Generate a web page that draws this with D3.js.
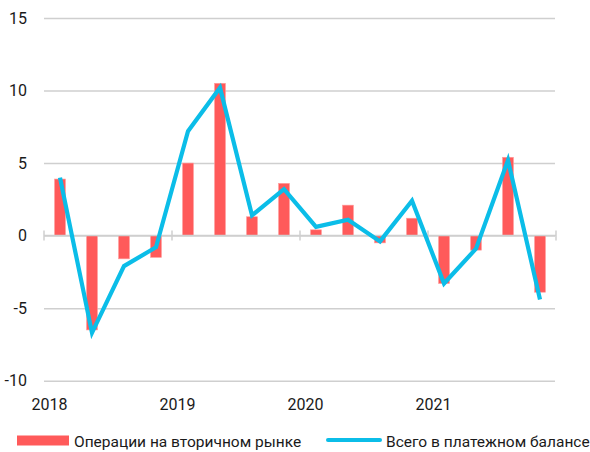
<!DOCTYPE html>
<html>
<head>
<meta charset="utf-8">
<script src="https://cdn.jsdelivr.net/npm/d3@7"></script>
<style>
  body { margin: 0; background: #fff; }
  svg text { font-family: Roboto, "Noto Sans", sans-serif; fill: #1a1a1a; }
</style>
</head>
<body>
<div id="chart"></div>
<script>
// quarters 2018Q1 .. 2021Q4
const quarters = ["2018Q1", "2018Q2", "2018Q3", "2018Q4",
                  "2019Q1", "2019Q2", "2019Q3", "2019Q4",
                  "2020Q1", "2020Q2", "2020Q3", "2020Q4",
                  "2021Q1", "2021Q2", "2021Q3", "2021Q4"];
const secondaryMarket = [3.9, -6.5, -1.6, -1.5, 5.0, 10.5, 1.3, 3.6,
                         0.4, 2.1, -0.5, 1.2, -3.3, -1.0, 5.4, -3.9];
const totalBalance = [4.0, -6.7, -2.1, -0.8, 7.2, 10.2, 1.4, 3.2,
                      0.6, 1.1, -0.4, 2.4, -3.3, -0.9, 5.2, -4.4];
const years = [2018, 2019, 2020, 2021, 2022];
const yearLabels = ["2018", "2019", "2020", "2021"];
const yTicks = [-10, -5, 0, 5, 10, 15];
const legendLabels = ["Операции на вторичном рынке", "Всего в платежном балансе"];

const red = "#ff5a5a";
const cyan = "#0bbde8";
const grid = "#cfcfcf";

drawChart();

function drawChart () {
  const width = 590;
  const height = 452;
  const left = 44, right = 556, top = 18, bottom = 380.7;

  const svg = d3.select("#chart")
    .append("svg")
      .attr("width", width)
      .attr("height", height);

  const x = d3.scaleBand()
    .domain(quarters)
    .range([left, right])
    .paddingInner(0.66)
    .paddingOuter(0.33);

  const xYear = d3.scaleLinear()
    .domain([2018, 2022])
    .range([left, right]);

  const y = d3.scaleLinear()
    .domain([-10, 15])
    .range([bottom, top]);

  // gridlines + y labels (plain hyphen for negatives)
  const yAxis = svg.append("g")
    .attr("transform", `translate(${left},0)`)
    .call(d3.axisLeft(y).tickValues(yTicks).tickSize(-(right - left - 1)).tickPadding(17).tickFormat(d => String(d)));
  yAxis.select(".domain").remove();
  yAxis.selectAll("line").attr("stroke", grid).attr("stroke-width", 1.5);
  yAxis.selectAll("text").attr("font-size", 16).attr("fill", "#1a1a1a");

  // bars
  svg.append("g").selectAll("rect")
    .data(secondaryMarket)
    .enter().append("rect")
      .attr("x", (d, i) => x(quarters[i]))
      .attr("width", x.bandwidth())
      .attr("y", d => y(Math.max(0, d)))
      .attr("height", d => Math.abs(y(d) - y(0)))
      .attr("fill", red)
      .attr("stroke", "#ff9c9c")
      .attr("stroke-width", 0.6);

  // zero axis with year ticks
  const zero = svg.append("g");
  zero.append("line")
    .attr("x1", left).attr("x2", right)
    .attr("y1", y(0)).attr("y2", y(0))
    .attr("stroke", grid).attr("stroke-width", 1.5);
  zero.selectAll("line.tick")
    .data(years)
    .enter().append("line")
      .attr("class", "tick")
      .attr("x1", d => xYear(d)).attr("x2", d => xYear(d))
      .attr("y1", y(0) - 5).attr("y2", y(0) + 5)
      .attr("stroke", grid).attr("stroke-width", 1.5);

  // line
  const line = d3.line()
    .x((d, i) => x(quarters[i]) + x.bandwidth() / 2)
    .y(d => y(d));
  svg.append("path")
    .datum(totalBalance)
    .attr("d", line)
    .attr("fill", "none")
    .attr("stroke", cyan)
    .attr("stroke-width", 4.2);

  // year labels
  svg.append("g").selectAll("text")
    .data(yearLabels)
    .enter().append("text")
      .attr("x", d => xYear(+d) + 5.5)
      .attr("y", 410)
      .attr("text-anchor", "middle")
      .attr("font-size", 16)
      .text(d => d);

  // legend
  const legend = svg.append("g");
  legend.append("rect")
    .attr("x", 17).attr("y", 435.5)
    .attr("width", 52).attr("height", 10)
    .attr("fill", red);
  legend.append("text")
    .attr("x", 74).attr("y", 446.5)
    .attr("font-size", 15.5)
    .text(legendLabels[0]);
  legend.append("line")
    .attr("x1", 328).attr("x2", 380)
    .attr("y1", 440).attr("y2", 440)
    .attr("stroke", cyan).attr("stroke-width", 4)
    .attr("stroke-linecap", "round");
  legend.append("text")
    .attr("x", 386).attr("y", 446.5)
    .attr("font-size", 15.5)
    .text(legendLabels[1]);
}
</script>
</body>
</html>
